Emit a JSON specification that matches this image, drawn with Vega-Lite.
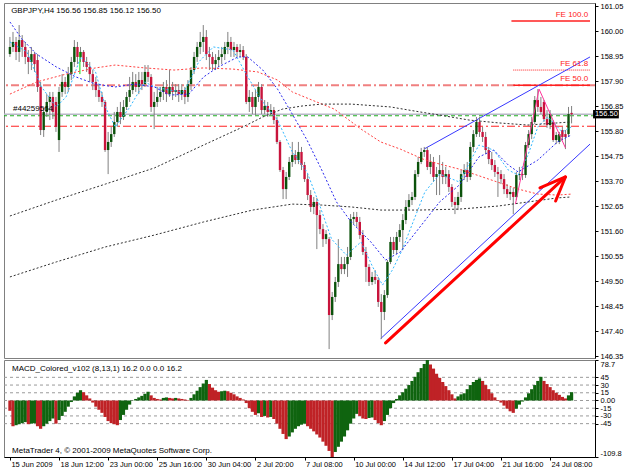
{
"$schema":"https://vega.github.io/schema/vega-lite/v6.json",
"background":"white",
"padding":{"left":2,"top":1,"right":0,"bottom":0},
"spacing":-1,
"config":{
"view":{"stroke":"#808080","strokeWidth":1},
"axis":{"labelFont":"Liberation Sans","labelFontSize":7.5,"labelColor":"#000000","tickColor":"#000000","domainColor":"#000000","tickSize":3,"labelPadding":2,"grid":false,"title":null,"labelOverlap":false},
"text":{"font":"Liberation Sans","fontSize":8}
},
"datasets":{
"one":[{}],
"bars":[
{"i":0,"o":159.03,"h":159.75,"l":158.91,"c":159.33,"m":-20,"u":0},
{"i":1,"o":159.33,"h":159.96,"l":159.12,"c":159.54,"m":-50,"u":0},
{"i":2,"o":159.54,"h":159.75,"l":158.78,"c":159.12,"m":-48,"u":1},
{"i":3,"o":159.12,"h":160.25,"l":158.70,"c":159.62,"m":-46,"u":1},
{"i":4,"o":159.62,"h":159.83,"l":158.91,"c":159.33,"m":-44,"u":1},
{"i":5,"o":159.33,"h":159.54,"l":158.61,"c":158.91,"m":-42,"u":1},
{"i":6,"o":158.91,"h":159.20,"l":158.19,"c":158.70,"m":-46,"u":0},
{"i":7,"o":158.70,"h":159.33,"l":158.36,"c":159.03,"m":-45,"u":1},
{"i":8,"o":159.03,"h":159.12,"l":158.28,"c":158.61,"m":-44,"u":1},
{"i":9,"o":158.78,"h":159.03,"l":157.44,"c":157.65,"m":-50,"u":0},
{"i":10,"o":157.65,"h":157.86,"l":155.63,"c":155.84,"m":-55,"u":0},
{"i":11,"o":155.84,"h":156.81,"l":155.55,"c":156.60,"m":-50,"u":1},
{"i":12,"o":156.60,"h":157.35,"l":156.39,"c":157.02,"m":-45,"u":1},
{"i":13,"o":157.02,"h":157.44,"l":156.26,"c":157.23,"m":-40,"u":1},
{"i":14,"o":157.23,"h":157.44,"l":156.30,"c":156.60,"m":-35,"u":1},
{"i":15,"o":157.02,"h":157.23,"l":155.76,"c":155.97,"m":-45,"u":0},
{"i":16,"o":155.42,"h":157.65,"l":154.92,"c":157.44,"m":-38,"u":1},
{"i":17,"o":157.44,"h":158.19,"l":157.23,"c":157.86,"m":-30,"u":1},
{"i":18,"o":157.86,"h":158.07,"l":157.35,"c":157.65,"m":-22,"u":1},
{"i":19,"o":157.65,"h":158.49,"l":157.44,"c":158.19,"m":-12,"u":1},
{"i":20,"o":158.19,"h":158.91,"l":157.94,"c":158.70,"m":-3,"u":1},
{"i":21,"o":158.70,"h":159.62,"l":158.49,"c":159.33,"m":8,"u":1},
{"i":22,"o":159.33,"h":159.54,"l":158.61,"c":158.91,"m":15,"u":1},
{"i":23,"o":158.91,"h":159.33,"l":158.70,"c":159.12,"m":20,"u":1},
{"i":24,"o":159.12,"h":159.20,"l":158.49,"c":158.70,"m":16,"u":0},
{"i":25,"o":158.70,"h":158.91,"l":158.28,"c":158.49,"m":10,"u":0},
{"i":26,"o":158.49,"h":158.70,"l":157.86,"c":158.19,"m":4,"u":0},
{"i":27,"o":158.19,"h":158.36,"l":157.52,"c":157.86,"m":-4,"u":0},
{"i":28,"o":157.86,"h":158.07,"l":157.23,"c":157.52,"m":-12,"u":0},
{"i":29,"o":157.52,"h":157.77,"l":157.02,"c":157.23,"m":-18,"u":0},
{"i":30,"o":157.23,"h":157.44,"l":156.81,"c":157.02,"m":-24,"u":0},
{"i":31,"o":157.02,"h":157.10,"l":154.92,"c":155.00,"m":-32,"u":0},
{"i":32,"o":155.00,"h":155.76,"l":153.99,"c":155.34,"m":-40,"u":0},
{"i":33,"o":155.34,"h":155.97,"l":155.13,"c":155.67,"m":-44,"u":0},
{"i":34,"o":155.67,"h":156.60,"l":155.55,"c":156.18,"m":-46,"u":0},
{"i":35,"o":156.18,"h":156.81,"l":155.97,"c":156.60,"m":-48,"u":0},
{"i":36,"o":156.60,"h":157.02,"l":156.09,"c":156.39,"m":-38,"u":1},
{"i":37,"o":156.39,"h":157.10,"l":156.26,"c":156.81,"m":-28,"u":1},
{"i":38,"o":156.81,"h":157.44,"l":156.68,"c":157.23,"m":-18,"u":1},
{"i":39,"o":157.23,"h":158.07,"l":157.02,"c":157.52,"m":-8,"u":1},
{"i":40,"o":157.52,"h":158.28,"l":157.35,"c":157.86,"m":0.5,"u":1},
{"i":41,"o":157.86,"h":158.19,"l":157.44,"c":157.65,"m":3,"u":1},
{"i":42,"o":157.65,"h":158.28,"l":157.35,"c":157.94,"m":6,"u":1},
{"i":43,"o":157.94,"h":158.28,"l":157.52,"c":157.77,"m":9,"u":1},
{"i":44,"o":157.77,"h":158.57,"l":157.65,"c":158.28,"m":13,"u":1},
{"i":45,"o":158.28,"h":158.57,"l":157.86,"c":158.07,"m":17,"u":1},
{"i":46,"o":158.07,"h":158.19,"l":156.60,"c":156.81,"m":10,"u":0},
{"i":47,"o":156.81,"h":157.44,"l":155.88,"c":157.02,"m":5,"u":0},
{"i":48,"o":157.02,"h":157.65,"l":156.81,"c":157.23,"m":3,"u":0},
{"i":49,"o":157.23,"h":157.65,"l":157.02,"c":157.44,"m":2,"u":0},
{"i":50,"o":157.44,"h":157.86,"l":157.10,"c":157.65,"m":5,"u":1},
{"i":51,"o":157.65,"h":157.94,"l":157.02,"c":157.35,"m":6,"u":1},
{"i":52,"o":157.35,"h":158.36,"l":157.23,"c":157.65,"m":5,"u":0},
{"i":53,"o":157.65,"h":157.86,"l":157.10,"c":157.44,"m":4,"u":0},
{"i":54,"o":157.44,"h":157.77,"l":157.23,"c":157.52,"m":5,"u":1},
{"i":55,"o":157.52,"h":157.77,"l":157.02,"c":157.35,"m":4,"u":0},
{"i":56,"o":157.35,"h":157.77,"l":157.10,"c":157.52,"m":3,"u":0},
{"i":57,"o":157.52,"h":157.65,"l":156.93,"c":157.23,"m":2,"u":0},
{"i":58,"o":157.23,"h":157.94,"l":157.02,"c":157.77,"m":1,"u":0},
{"i":59,"o":157.77,"h":158.49,"l":157.52,"c":158.36,"m":5,"u":1},
{"i":60,"o":158.36,"h":159.12,"l":158.19,"c":158.91,"m":12,"u":1},
{"i":61,"o":158.91,"h":159.54,"l":158.70,"c":159.33,"m":19,"u":1},
{"i":62,"o":159.33,"h":159.96,"l":159.03,"c":159.54,"m":26,"u":1},
{"i":63,"o":159.54,"h":160.25,"l":159.12,"c":159.75,"m":33,"u":1},
{"i":64,"o":159.75,"h":160.04,"l":158.78,"c":159.03,"m":40,"u":1},
{"i":65,"o":159.03,"h":159.33,"l":158.36,"c":158.91,"m":32,"u":0},
{"i":66,"o":158.91,"h":159.12,"l":158.36,"c":158.61,"m":25,"u":0},
{"i":67,"o":158.61,"h":159.03,"l":158.36,"c":158.78,"m":20,"u":0},
{"i":68,"o":158.78,"h":159.20,"l":158.49,"c":158.91,"m":17,"u":0},
{"i":69,"o":158.91,"h":159.33,"l":158.61,"c":159.03,"m":18,"u":1},
{"i":70,"o":159.03,"h":159.54,"l":158.78,"c":159.33,"m":19,"u":1},
{"i":71,"o":159.33,"h":159.96,"l":159.03,"c":159.54,"m":18,"u":0},
{"i":72,"o":159.54,"h":159.75,"l":158.91,"c":159.20,"m":15,"u":0},
{"i":73,"o":159.20,"h":159.54,"l":158.91,"c":159.33,"m":12,"u":0},
{"i":74,"o":159.33,"h":159.45,"l":158.91,"c":159.12,"m":8,"u":0},
{"i":75,"o":159.12,"h":159.45,"l":158.91,"c":159.20,"m":5,"u":0},
{"i":76,"o":159.20,"h":159.37,"l":158.78,"c":158.91,"m":2,"u":0},
{"i":77,"o":158.91,"h":159.03,"l":156.93,"c":157.02,"m":-5,"u":0},
{"i":78,"o":157.02,"h":157.52,"l":156.60,"c":157.23,"m":-15,"u":0},
{"i":79,"o":157.23,"h":157.44,"l":156.51,"c":156.81,"m":-22,"u":0},
{"i":80,"o":156.81,"h":157.52,"l":156.47,"c":157.23,"m":-28,"u":0},
{"i":81,"o":157.23,"h":157.86,"l":157.02,"c":157.65,"m":-25,"u":1},
{"i":82,"o":157.65,"h":157.77,"l":156.51,"c":156.68,"m":-32,"u":0},
{"i":83,"o":156.68,"h":157.10,"l":156.51,"c":156.85,"m":-30,"u":1},
{"i":84,"o":156.85,"h":157.02,"l":156.39,"c":156.60,"m":-33,"u":0},
{"i":85,"o":156.60,"h":156.93,"l":156.47,"c":156.68,"m":-32,"u":1},
{"i":86,"o":156.68,"h":156.81,"l":156.09,"c":156.26,"m":-36,"u":0},
{"i":87,"o":156.26,"h":156.39,"l":155.25,"c":155.34,"m":-45,"u":0},
{"i":88,"o":155.34,"h":155.42,"l":154.08,"c":154.16,"m":-55,"u":0},
{"i":89,"o":154.16,"h":154.29,"l":152.94,"c":153.36,"m":-65,"u":0},
{"i":90,"o":153.36,"h":154.08,"l":152.94,"c":153.87,"m":-75,"u":0},
{"i":91,"o":153.87,"h":154.71,"l":153.74,"c":154.50,"m":-70,"u":1},
{"i":92,"o":154.50,"h":155.34,"l":154.29,"c":154.79,"m":-62,"u":1},
{"i":93,"o":154.79,"h":155.00,"l":154.41,"c":154.58,"m":-55,"u":1},
{"i":94,"o":154.58,"h":155.34,"l":154.41,"c":154.92,"m":-50,"u":1},
{"i":95,"o":154.92,"h":155.13,"l":154.16,"c":154.37,"m":-47,"u":1},
{"i":96,"o":154.37,"h":154.50,"l":153.66,"c":153.78,"m":-45,"u":1},
{"i":97,"o":153.78,"h":153.99,"l":152.90,"c":153.11,"m":-50,"u":0},
{"i":98,"o":153.11,"h":153.32,"l":152.40,"c":152.61,"m":-55,"u":0},
{"i":99,"o":152.61,"h":153.03,"l":152.31,"c":152.82,"m":-60,"u":0},
{"i":100,"o":152.82,"h":152.99,"l":150.84,"c":152.27,"m":-66,"u":0},
{"i":101,"o":152.27,"h":152.48,"l":151.47,"c":151.68,"m":-72,"u":0},
{"i":102,"o":151.68,"h":151.89,"l":150.93,"c":151.26,"m":-80,"u":0},
{"i":103,"o":151.26,"h":151.64,"l":151.05,"c":151.47,"m":-88,"u":0},
{"i":104,"o":151.26,"h":151.35,"l":146.64,"c":148.07,"m":-98,"u":0},
{"i":105,"o":148.07,"h":149.04,"l":147.86,"c":148.83,"m":-109.8,"u":0},
{"i":106,"o":148.83,"h":149.67,"l":148.62,"c":149.46,"m":-100,"u":1},
{"i":107,"o":149.46,"h":151.26,"l":149.25,"c":150.21,"m":-90,"u":1},
{"i":108,"o":150.21,"h":150.51,"l":149.79,"c":150.00,"m":-80,"u":1},
{"i":109,"o":150.00,"h":150.51,"l":149.79,"c":150.21,"m":-70,"u":1},
{"i":110,"o":150.21,"h":150.93,"l":149.67,"c":150.51,"m":-58,"u":1},
{"i":111,"o":150.51,"h":152.31,"l":150.38,"c":152.10,"m":-45,"u":1},
{"i":112,"o":152.10,"h":152.40,"l":151.89,"c":152.19,"m":-35,"u":1},
{"i":113,"o":152.19,"h":152.40,"l":151.77,"c":151.98,"m":-26,"u":1},
{"i":114,"o":151.98,"h":152.19,"l":151.26,"c":151.43,"m":-30,"u":0},
{"i":115,"o":151.43,"h":151.64,"l":150.59,"c":150.72,"m":-35,"u":0},
{"i":116,"o":150.72,"h":150.93,"l":149.46,"c":150.09,"m":-36,"u":0},
{"i":117,"o":150.09,"h":150.21,"l":149.29,"c":149.46,"m":-34,"u":1},
{"i":118,"o":149.46,"h":149.88,"l":149.33,"c":149.67,"m":-33,"u":1},
{"i":119,"o":149.67,"h":149.96,"l":149.37,"c":149.54,"m":-38,"u":0},
{"i":120,"o":149.54,"h":149.67,"l":148.41,"c":148.62,"m":-44,"u":0},
{"i":121,"o":148.62,"h":148.95,"l":147.06,"c":148.20,"m":-48,"u":0},
{"i":122,"o":148.20,"h":149.12,"l":147.86,"c":148.91,"m":-40,"u":1},
{"i":123,"o":148.91,"h":150.38,"l":148.79,"c":150.30,"m":-28,"u":1},
{"i":124,"o":150.30,"h":151.35,"l":150.21,"c":151.14,"m":-15,"u":1},
{"i":125,"o":151.14,"h":151.35,"l":150.63,"c":150.80,"m":-5,"u":1},
{"i":126,"o":150.80,"h":151.56,"l":150.63,"c":151.35,"m":3,"u":1},
{"i":127,"o":151.35,"h":151.89,"l":151.14,"c":151.64,"m":10,"u":1},
{"i":128,"o":151.64,"h":152.31,"l":150.80,"c":152.06,"m":16,"u":1},
{"i":129,"o":152.06,"h":152.90,"l":151.89,"c":152.61,"m":23,"u":1},
{"i":130,"o":152.61,"h":153.15,"l":152.48,"c":152.90,"m":30,"u":1},
{"i":131,"o":152.90,"h":153.24,"l":152.69,"c":153.03,"m":38,"u":1},
{"i":132,"o":153.03,"h":154.16,"l":152.90,"c":153.99,"m":46,"u":1},
{"i":133,"o":153.99,"h":154.71,"l":153.87,"c":154.50,"m":55,"u":1},
{"i":134,"o":154.50,"h":155.09,"l":154.41,"c":154.92,"m":63,"u":1},
{"i":135,"o":154.92,"h":155.13,"l":154.71,"c":155.00,"m":71,"u":1},
{"i":136,"o":155.00,"h":155.13,"l":154.16,"c":154.29,"m":78.7,"u":1},
{"i":137,"o":154.29,"h":154.83,"l":153.99,"c":154.50,"m":70,"u":0},
{"i":138,"o":154.50,"h":154.71,"l":153.66,"c":153.87,"m":62,"u":0},
{"i":139,"o":153.87,"h":154.29,"l":153.11,"c":153.99,"m":52,"u":0},
{"i":140,"o":153.99,"h":154.79,"l":153.11,"c":154.16,"m":44,"u":0},
{"i":141,"o":154.16,"h":154.50,"l":153.57,"c":153.87,"m":36,"u":0},
{"i":142,"o":153.87,"h":154.29,"l":153.57,"c":153.99,"m":28,"u":0},
{"i":143,"o":153.99,"h":154.16,"l":153.24,"c":153.45,"m":20,"u":0},
{"i":144,"o":153.45,"h":153.57,"l":152.61,"c":152.82,"m":12,"u":0},
{"i":145,"o":152.82,"h":153.03,"l":152.31,"c":152.69,"m":4,"u":0},
{"i":146,"o":152.69,"h":153.24,"l":152.48,"c":153.03,"m":8,"u":1},
{"i":147,"o":153.03,"h":154.16,"l":152.82,"c":153.99,"m":12,"u":1},
{"i":148,"o":153.99,"h":154.41,"l":153.74,"c":154.16,"m":14,"u":1},
{"i":149,"o":154.16,"h":154.50,"l":153.66,"c":153.87,"m":22,"u":1},
{"i":150,"o":153.87,"h":155.34,"l":153.74,"c":155.13,"m":30,"u":1},
{"i":151,"o":155.13,"h":155.84,"l":154.92,"c":155.67,"m":36,"u":1},
{"i":152,"o":155.67,"h":156.39,"l":155.55,"c":156.18,"m":40,"u":1},
{"i":153,"o":156.18,"h":156.39,"l":155.55,"c":155.76,"m":43,"u":1},
{"i":154,"o":155.76,"h":155.97,"l":155.34,"c":155.55,"m":38,"u":0},
{"i":155,"o":155.55,"h":155.76,"l":154.83,"c":155.00,"m":30,"u":0},
{"i":156,"o":155.00,"h":155.13,"l":154.41,"c":154.62,"m":22,"u":0},
{"i":157,"o":154.62,"h":154.92,"l":154.16,"c":154.37,"m":14,"u":0},
{"i":158,"o":154.37,"h":154.58,"l":153.87,"c":154.08,"m":6,"u":0},
{"i":159,"o":154.08,"h":154.29,"l":153.03,"c":153.99,"m":1,"u":0},
{"i":160,"o":153.99,"h":154.16,"l":153.57,"c":153.78,"m":-4,"u":0},
{"i":161,"o":153.78,"h":153.99,"l":153.15,"c":153.36,"m":-10,"u":0},
{"i":162,"o":153.36,"h":153.57,"l":152.99,"c":153.15,"m":-16,"u":0},
{"i":163,"o":153.15,"h":153.45,"l":152.90,"c":153.24,"m":-21,"u":0},
{"i":164,"o":153.24,"h":153.41,"l":152.31,"c":153.03,"m":-24,"u":0},
{"i":165,"o":153.03,"h":154.08,"l":152.90,"c":153.95,"m":-16,"u":1},
{"i":166,"o":153.95,"h":154.29,"l":153.74,"c":153.99,"m":-8,"u":1},
{"i":167,"o":153.99,"h":154.25,"l":153.74,"c":153.95,"m":-2,"u":1},
{"i":168,"o":153.95,"h":155.34,"l":153.83,"c":155.21,"m":6,"u":1},
{"i":169,"o":155.21,"h":155.84,"l":155.09,"c":155.67,"m":14,"u":1},
{"i":170,"o":155.67,"h":156.39,"l":155.46,"c":156.18,"m":22,"u":1},
{"i":171,"o":156.18,"h":157.27,"l":156.09,"c":157.10,"m":30,"u":1},
{"i":172,"o":157.10,"h":157.56,"l":156.60,"c":156.81,"m":38,"u":1},
{"i":173,"o":156.81,"h":157.23,"l":156.51,"c":156.60,"m":46,"u":1},
{"i":174,"o":157.02,"h":157.10,"l":156.18,"c":156.30,"m":38,"u":0},
{"i":175,"o":156.30,"h":156.68,"l":155.93,"c":156.05,"m":32,"u":0},
{"i":176,"o":156.05,"h":156.68,"l":155.88,"c":156.51,"m":26,"u":0},
{"i":177,"o":156.18,"h":156.26,"l":155.34,"c":155.42,"m":20,"u":0},
{"i":178,"o":155.42,"h":155.76,"l":155.25,"c":155.63,"m":15,"u":0},
{"i":179,"o":155.34,"h":155.76,"l":155.25,"c":155.67,"m":11,"u":0},
{"i":180,"o":155.84,"h":155.97,"l":155.42,"c":155.55,"m":7,"u":0},
{"i":181,"o":155.67,"h":155.84,"l":155.04,"c":155.55,"m":4,"u":0},
{"i":182,"o":155.67,"h":156.81,"l":155.55,"c":156.51,"m":10,"u":1},
{"i":183,"o":156.56,"h":156.85,"l":156.12,"c":156.50,"m":16.2,"u":1}
],
"ma":[
{"s":"c","i":0,"p":159.54},{"s":"c","i":5.5,"p":159.12},{"s":"c","i":10.3,"p":157.65},{"s":"c","i":15.1,"p":156.81},{"s":"c","i":18.3,"p":157.23},{"s":"c","i":23.1,"p":158.91},{"s":"c","i":27.9,"p":158.28},{"s":"c","i":31.1,"p":156.81},{"s":"c","i":34.3,"p":155.97},{"s":"c","i":39.1,"p":156.81},{"s":"c","i":43.9,"p":157.86},{"s":"c","i":47.1,"p":157.65},{"s":"c","i":51.9,"p":157.52},{"s":"c","i":56.7,"p":157.44},{"s":"c","i":61.5,"p":158.70},{"s":"c","i":66.3,"p":159.33},{"s":"c","i":72.7,"p":159.20},{"s":"c","i":77.5,"p":158.07},{"s":"c","i":82.4,"p":157.02},{"s":"c","i":87.2,"p":156.26},{"s":"c","i":92.0,"p":154.92},{"s":"c","i":96.8,"p":154.08},{"s":"c","i":100.9,"p":152.69},{"s":"c","i":104.8,"p":151.26},{"s":"c","i":109.6,"p":150.59},{"s":"c","i":114.4,"p":151.14},{"s":"c","i":118.2,"p":150.09},{"s":"c","i":121.4,"p":149.33},{"s":"c","i":124.6,"p":149.96},{"s":"c","i":127.8,"p":150.80},{"s":"c","i":132.0,"p":152.19},{"s":"c","i":135.2,"p":153.24},{"s":"c","i":140.0,"p":153.99},{"s":"c","i":146.4,"p":153.66},{"s":"c","i":152.8,"p":155.21},{"s":"c","i":157.6,"p":155.00},{"s":"c","i":162.4,"p":154.16},{"s":"c","i":165.6,"p":153.95},{"s":"c","i":168.8,"p":154.79},{"s":"c","i":172.0,"p":155.97},{"s":"c","i":175.2,"p":156.39},{"s":"c","i":180.0,"p":155.76},{"s":"c","i":182.9,"p":155.97},
{"s":"b","i":0,"p":160.38},{"s":"b","i":3.9,"p":159.66},{"s":"b","i":8.7,"p":159.03},{"s":"b","i":15.1,"p":158.49},{"s":"b","i":21.5,"p":158.07},{"s":"b","i":27.9,"p":157.77},{"s":"b","i":34.3,"p":157.65},{"s":"b","i":40.7,"p":157.77},{"s":"b","i":47.1,"p":157.65},{"s":"b","i":51.9,"p":157.31},{"s":"b","i":58.3,"p":157.35},{"s":"b","i":63.1,"p":158.07},{"s":"b","i":67.9,"p":158.49},{"s":"b","i":74.3,"p":158.91},{"s":"b","i":77.5,"p":158.91},{"s":"b","i":82.4,"p":158.36},{"s":"b","i":87.2,"p":157.56},{"s":"b","i":92.0,"p":156.51},{"s":"b","i":96.8,"p":155.42},{"s":"b","i":101.6,"p":154.16},{"s":"b","i":106.4,"p":152.82},{"s":"b","i":111.2,"p":151.98},{"s":"b","i":117.6,"p":151.14},{"s":"b","i":122.4,"p":150.38},{"s":"b","i":127.2,"p":150.72},{"s":"b","i":133.6,"p":151.77},{"s":"b","i":140.0,"p":152.82},{"s":"b","i":146.4,"p":153.53},{"s":"b","i":152.8,"p":154.71},{"s":"b","i":157.6,"p":155.00},{"s":"b","i":162.4,"p":154.37},{"s":"b","i":165.6,"p":154.08},{"s":"b","i":172.0,"p":154.58},{"s":"b","i":178.4,"p":155.34},{"s":"b","i":182.9,"p":155.63},
{"s":"r","i":0,"p":157.35},{"s":"r","i":8.7,"p":157.86},{"s":"r","i":18.3,"p":158.19},{"s":"r","i":27.9,"p":158.45},{"s":"r","i":34.3,"p":158.57},{"s":"r","i":43.9,"p":158.45},{"s":"r","i":53.5,"p":158.36},{"s":"r","i":63.1,"p":158.45},{"s":"r","i":72.7,"p":158.40},{"s":"r","i":80.8,"p":158.28},{"s":"r","i":87.2,"p":157.94},{"s":"r","i":92.0,"p":157.44},{"s":"r","i":98.4,"p":157.10},{"s":"r","i":105.7,"p":156.72},{"s":"r","i":114.4,"p":155.88},{"s":"r","i":120.8,"p":155.34},{"s":"r","i":127.2,"p":155.04},{"s":"r","i":134.6,"p":154.62},{"s":"r","i":140.0,"p":154.41},{"s":"r","i":146.4,"p":154.20},{"s":"r","i":156.0,"p":153.78},{"s":"r","i":165.6,"p":153.36},{"s":"r","i":172.0,"p":153.15},{"s":"r","i":178.4,"p":153.11},{"s":"r","i":182.9,"p":153.15},
{"s":"k1","i":0,"p":152.23},{"s":"k1","i":15.1,"p":152.90},{"s":"k1","i":31.1,"p":153.57},{"s":"k1","i":47.1,"p":154.25},{"s":"k1","i":63.1,"p":155.21},{"s":"k1","i":75.9,"p":155.97},{"s":"k1","i":82.4,"p":156.39},{"s":"k1","i":88.8,"p":156.72},{"s":"k1","i":95.2,"p":156.85},{"s":"k1","i":101.6,"p":156.93},{"s":"k1","i":111.2,"p":156.93},{"s":"k1","i":124.0,"p":156.81},{"s":"k1","i":133.6,"p":156.60},{"s":"k1","i":140.0,"p":156.47},{"s":"k1","i":149.6,"p":156.26},{"s":"k1","i":159.2,"p":156.14},{"s":"k1","i":168.8,"p":156.05},{"s":"k1","i":178.4,"p":156.14},{"s":"k1","i":182.9,"p":156.18},
{"s":"k2","i":0,"p":149.67},{"s":"k2","i":15.1,"p":150.30},{"s":"k2","i":31.1,"p":150.93},{"s":"k2","i":47.1,"p":151.43},{"s":"k2","i":63.1,"p":151.98},{"s":"k2","i":79.1,"p":152.48},{"s":"k2","i":92.0,"p":152.73},{"s":"k2","i":101.6,"p":152.69},{"s":"k2","i":111.2,"p":152.61},{"s":"k2","i":120.8,"p":152.48},{"s":"k2","i":133.6,"p":152.48},{"s":"k2","i":146.4,"p":152.52},{"s":"k2","i":159.2,"p":152.65},{"s":"k2","i":168.8,"p":152.82},{"s":"k2","i":178.4,"p":152.99},{"s":"k2","i":182.9,"p":153.03}
]
},
"vconcat":[
{
"width":591,"height":355,
"layer":[
{"data":{"name":"one"},"mark":{"type":"rule","color":"#f08080","strokeWidth":2,"strokeDash":[8,3,2,3]},
 "encoding":{"y":{"datum":157.72,"type":"quantitative","scale":{"domain":[146.266,161.176],"nice":false,"zero":false},"axis":{"orient":"right","values":[161.05,160,158.95,157.9,156.85,155.8,154.75,153.7,152.65,151.6,150.55,149.5,148.45,147.4,146.35],"tickCount":100,"format":".2f","title":null,"labelAlign":"left","labelBaseline":"middle","labelOverlap":false}}}},
{"data":{"name":"one"},"mark":{"type":"rule","color":"#ff2020","strokeWidth":1,"strokeDash":[8,3,2,3]},
 "encoding":{"y":{"datum":156.0,"type":"quantitative","scale":{"domain":[146.266,161.176],"nice":false,"zero":false}}}},
{"data":{"name":"one"},"mark":{"type":"rule","color":"#b8b8c8","strokeWidth":1.5},
 "encoding":{"y":{"datum":156.5,"type":"quantitative","scale":{"domain":[146.266,161.176],"nice":false,"zero":false}}}},
{"data":{"name":"one"},"mark":{"type":"rule","color":"#20b020","strokeWidth":1,"strokeDash":[4,3]},
 "encoding":{"y":{"datum":156.44,"type":"quantitative","scale":{"domain":[146.266,161.176],"nice":false,"zero":false}}}},
{"data":{"name":"one"},"mark":{"type":"rule","color":"#ff2020","strokeWidth":1.5},
 "encoding":{"x":{"datum":163.4,"type":"quantitative","scale":{"domain":[-0.3,189],"nice":false,"zero":false},"axis":null},"x2":{"datum":189},
  "y":{"datum":160.42,"type":"quantitative","scale":{"domain":[146.266,161.176],"nice":false,"zero":false}}}},
{"data":{"name":"one"},"mark":{"type":"rule","color":"#ff2020","strokeWidth":1,"strokeDash":[1,1]},
 "encoding":{"x":{"datum":164.0,"type":"quantitative","scale":{"domain":[-0.3,189],"nice":false,"zero":false},"axis":null},"x2":{"datum":189},
  "y":{"datum":158.36,"type":"quantitative","scale":{"domain":[146.266,161.176],"nice":false,"zero":false}}}},
{"data":{"name":"one"},"mark":{"type":"rule","color":"#ff2020","strokeWidth":1.5},
 "encoding":{"x":{"datum":164.0,"type":"quantitative","scale":{"domain":[-0.3,189],"nice":false,"zero":false},"axis":null},"x2":{"datum":189},
  "y":{"datum":157.72,"type":"quantitative","scale":{"domain":[146.266,161.176],"nice":false,"zero":false}}}},
{"data":{"values":[{"g":"up","i":134.9,"p":155.04},{"g":"up","i":189,"p":158.91},{"g":"lo","i":120.8,"p":147.08},{"g":"lo","i":189,"p":155.25}]},
 "mark":{"type":"line","color":"#3838ff","strokeWidth":1},
 "encoding":{"x":{"field":"i","type":"quantitative","scale":{"domain":[-0.3,189],"nice":false,"zero":false},"axis":null},
  "y":{"field":"p","type":"quantitative","scale":{"domain":[146.266,161.176],"nice":false,"zero":false}},"detail":{"field":"g"}}},
{"data":{"name":"bars"},
 "mark":{"type":"rule","color":"#808080","strokeWidth":1},
 "encoding":{"x":{"field":"i","type":"quantitative","scale":{"domain":[-0.3,189],"nice":false,"zero":false},"axis":null},
  "y":{"field":"l","type":"quantitative","scale":{"domain":[146.266,161.176],"nice":false,"zero":false}},"y2":{"field":"h"}}},
{"data":{"name":"bars"},
 "mark":{"type":"bar","width":2.4},
 "encoding":{"x":{"field":"i","type":"quantitative","scale":{"domain":[-0.3,189],"nice":false,"zero":false},"axis":null},
  "y":{"field":"o","type":"quantitative","scale":{"domain":[146.266,161.176],"nice":false,"zero":false}},"y2":{"field":"c"},
  "color":{"condition":{"test":"datum.c >= datum.o","value":"#0b520b"},"value":"#c8143c"}}},
{"data":{"name":"one"},"mark":{"type":"rule","color":"#00e000","strokeWidth":1},
 "encoding":{"x":{"datum":22.8,"type":"quantitative","scale":{"domain":[-0.3,189],"nice":false,"zero":false},"axis":null},
  "y":{"datum":159.12,"type":"quantitative","scale":{"domain":[146.266,161.176],"nice":false,"zero":false}},"y2":{"datum":158.19}}},
{"data":{"name":"ma"},
 "mark":{"type":"line","strokeWidth":1,"strokeDash":[2,2]},
 "encoding":{"x":{"field":"i","type":"quantitative","scale":{"domain":[-0.3,189],"nice":false,"zero":false},"axis":null},
  "y":{"field":"p","type":"quantitative","scale":{"domain":[146.266,161.176],"nice":false,"zero":false}},
  "color":{"field":"s","type":"nominal","scale":{"domain":["c","b","r","k1","k2"],"range":["#30b8ff","#2828ee","#ff4040","#303030","#303030"]},"legend":null}}},
{"data":{"values":[{"i":164.7,"p":152.73},{"i":172.4,"p":157.56},{"i":181.0,"p":155.09}]},
 "mark":{"type":"line","color":"#ff3399","strokeWidth":1},
 "encoding":{"x":{"field":"i","type":"quantitative","scale":{"domain":[-0.3,189],"nice":false,"zero":false},"axis":null},
  "y":{"field":"p","type":"quantitative","scale":{"domain":[146.266,161.176],"nice":false,"zero":false}}}},
{"data":{"values":[{"g":"a","k":0,"i":122.4,"p":146.9},{"g":"a","k":1,"i":181.0,"p":153.87},{"g":"h","k":0,"i":172.7,"p":153.41},{"g":"h","k":1,"i":181.0,"p":153.87},{"g":"h","k":2,"i":177.8,"p":152.86}]},
 "mark":{"type":"line","color":"#ff0000","strokeWidth":3,"strokeCap":"round","strokeJoin":"round"},
 "encoding":{"x":{"field":"i","type":"quantitative","scale":{"domain":[-0.3,189],"nice":false,"zero":false},"axis":null},
  "y":{"field":"p","type":"quantitative","scale":{"domain":[146.266,161.176],"nice":false,"zero":false}},"detail":{"field":"g"},"order":{"field":"k"}}},
{"data":{"name":"one"},"mark":{"type":"text","align":"left","baseline":"middle","text":"GBPJPY,H4  156.56 156.85 156.12 156.50","color":"#000000","fontSize":8},
 "encoding":{"x":{"datum":0.4,"type":"quantitative","scale":{"domain":[-0.3,189],"nice":false,"zero":false},"axis":null},
  "y":{"datum":160.84,"type":"quantitative","scale":{"domain":[146.266,161.176],"nice":false,"zero":false}}}},
{"data":{"name":"one"},"mark":{"type":"text","align":"left","baseline":"middle","text":"#44259564","color":"#000000","fontSize":8},
 "encoding":{"x":{"datum":1.0,"type":"quantitative","scale":{"domain":[-0.3,189],"nice":false,"zero":false},"axis":null},
  "y":{"datum":156.72,"type":"quantitative","scale":{"domain":[146.266,161.176],"nice":false,"zero":false}}}},
{"data":{"values":[{"t":"FE 100.0","p":160.5},{"t":"FE 61.8","p":158.45},{"t":"FE 50.0","p":157.82}]},
 "mark":{"type":"text","align":"right","baseline":"bottom","color":"#ff2020","fontSize":8},
 "encoding":{"x":{"datum":188.4,"type":"quantitative","scale":{"domain":[-0.3,189],"nice":false,"zero":false},"axis":null},
  "y":{"field":"p","type":"quantitative","scale":{"domain":[146.266,161.176],"nice":false,"zero":false}},"text":{"field":"t"}}},
{"data":{"name":"one"},"mark":{"type":"rect","color":"#000000"},
 "encoding":{"x":{"datum":190.0,"type":"quantitative","scale":{"domain":[-0.3,189],"nice":false,"zero":false},"axis":null},"x2":{"datum":198.4},
  "y":{"datum":156.33,"type":"quantitative","scale":{"domain":[146.266,161.176],"nice":false,"zero":false}},"y2":{"datum":156.68}}},
{"data":{"name":"one"},"mark":{"type":"text","align":"left","baseline":"middle","text":"156.50","color":"#ffffff","fontSize":7.5},
 "encoding":{"x":{"datum":190.6,"type":"quantitative","scale":{"domain":[-0.3,189],"nice":false,"zero":false},"axis":null},
  "y":{"datum":156.5,"type":"quantitative","scale":{"domain":[146.266,161.176],"nice":false,"zero":false}}}}
]
},
{
"width":591,"height":97,
"layer":[
{"data":{"values":[{"v":45},{"v":30},{"v":15},{"v":0},{"v":-15},{"v":-30},{"v":-45}]},
 "mark":{"type":"rule","color":"#9a9a9a","strokeWidth":1,"strokeDash":[3,3]},
 "encoding":{"y":{"field":"v","type":"quantitative","scale":{"domain":[-109.8,78.7],"nice":false,"zero":false},
   "axis":{"orient":"right","values":[78.7,45,30,15,0,-15,-30,-45,-109.8],"tickCount":100,"labelExpr":"datum.value == 0 ? '0.00' : '' + datum.value","title":null,"labelAlign":"left","labelOverlap":false,
    "labelBaseline":{"condition":[{"test":"datum.value > 70","value":"top"},{"test":"datum.value < -100","value":"bottom"}],"value":"middle"}}}}},
{"data":{"name":"bars"},
 "mark":{"type":"bar","width":3.2},
 "encoding":{"x":{"field":"i","type":"quantitative","scale":{"domain":[-0.3,189],"nice":false,"zero":false},
   "axis":{"orient":"bottom","values":[0,16,32,48,64,80,96,112,128,144,160,176],"tickCount":100,"labelExpr":"['15 Jun 2009','18 Jun 12:00','23 Jun 00:00','25 Jun 16:00','30 Jun 04:00','2 Jul 20:00','7 Jul 08:00','10 Jul 00:00','14 Jul 12:00','17 Jul 04:00','21 Jul 16:00','24 Jul 08:00'][round(datum.value/16)]","labelAlign":"left","labelOffset":1,"labelPadding":0,"title":null,"labelOverlap":false,"labelFlush":false}},
  "y":{"field":"m","type":"quantitative","scale":{"domain":[-109.8,78.7],"nice":false,"zero":false}},
  "y2":{"datum":0},
  "color":{"condition":{"test":"datum.u == 1","value":"#0f640f"},"value":"#bf2226"}}},
{"data":{"name":"one"},"mark":{"type":"text","align":"left","baseline":"middle","text":"MACD_Colored_v102 (8,13,1) 16.2 0.0 0.0 16.2","color":"#000000","fontSize":8},
 "encoding":{"x":{"datum":0.7,"type":"quantitative","scale":{"domain":[-0.3,189],"nice":false,"zero":false}},
  "y":{"datum":61.2,"type":"quantitative","scale":{"domain":[-109.8,78.7],"nice":false,"zero":false}}}},
{"data":{"name":"one"},"mark":{"type":"text","align":"left","baseline":"middle","text":"MetaTrader 4, © 2001-2009 MetaQuotes Software Corp.","color":"#000000","fontSize":8},
 "encoding":{"x":{"datum":0.7,"type":"quantitative","scale":{"domain":[-0.3,189],"nice":false,"zero":false}},
  "y":{"datum":-98,"type":"quantitative","scale":{"domain":[-109.8,78.7],"nice":false,"zero":false}}}}
]
}
]
}
